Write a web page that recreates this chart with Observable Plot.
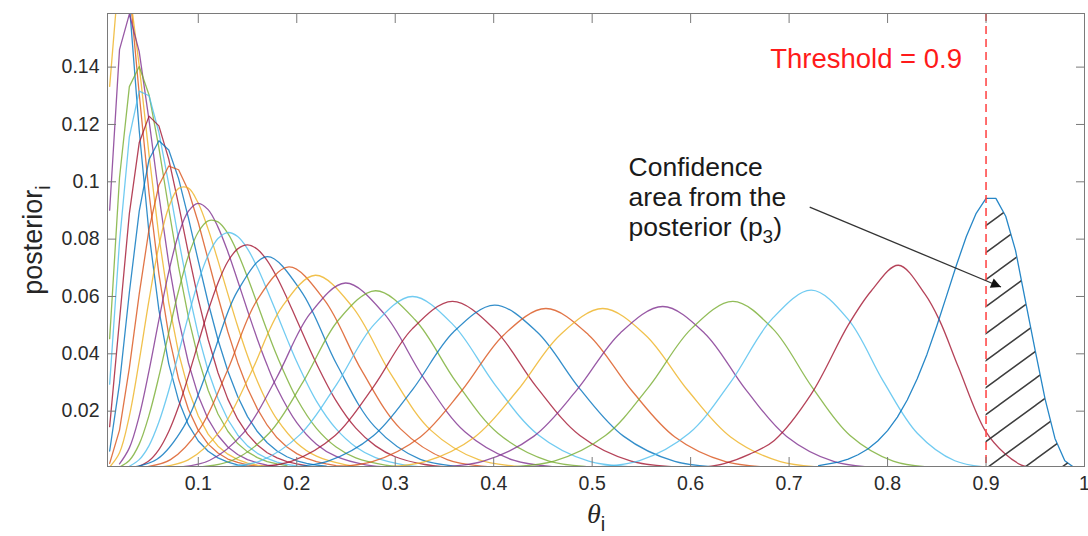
<!DOCTYPE html>
<html>
<head>
<meta charset="utf-8">
<script src="https://cdn.jsdelivr.net/npm/d3@7"></script>
<script src="https://cdn.jsdelivr.net/npm/@observablehq/plot@0.6"></script>
<style>
  html, body { margin: 0; padding: 0; background: #ffffff; }
  #chart svg { display: block; }
  #chart g[aria-label$="axis tick"] { stroke: #7a7a7a; }
</style>
</head>
<body>
<div id="chart"></div>
<script>
// ---------- palette (MATLAB default line colour order) ----------
const matlabColors = ["#0072BD", "#D95319", "#EDB120", "#7E2F8E", "#77AC30", "#4DBEEE", "#A2142F"];

// ---------- axes ----------
const xTicks = [0.1, 0.2, 0.3, 0.4, 0.5, 0.6, 0.7, 0.8, 0.9, 1];
const xTickLabels = ["0.1", "0.2", "0.3", "0.4", "0.5", "0.6", "0.7", "0.8", "0.9", "1"];
const yTicks = [0.02, 0.04, 0.06, 0.08, 0.1, 0.12, 0.14];
const yTickLabels = ["0.02", "0.04", "0.06", "0.08", "0.1", "0.12", "0.14"];
const xLabel = "θ_{i}";
const yLabel = "posterior_{i}";

// ---------- annotations ----------
const threshold = 0.9;
const thresholdLabel = "Threshold = 0.9";
const noteLines = ["Confidence", "area from the", "posterior (p_{3})"];
const noteAnchor = [0.537, 0.1092];   // [theta, posterior] of the note's top-left
const arrowFrom = [0.7209, 0.0912];   // [theta, posterior]
const arrowTo = [0.9152, 0.0633];     // [theta, posterior]

// ---------- posterior curves, [theta, posterior] ----------
const post01 = [[0.01,0.220],[0.02,0.206],[0.03,0.162],[0.04,0.118],[0.05,0.0819],[0.06,0.0553],[0.07,0.0365],[0.08,0.0237],[0.09,0.0152],[0.10,0.0096],[0.11,0.0060],[0.12,0.0037],[0.13,0.0022],[0.14,0.0013],[0.15,0.0008],[0.16,0.0005]];
const post02 = [[0.01,0.1766],[0.02,0.1945],[0.03,0.1678],[0.04,0.1307],[0.05,0.0960],[0.06,0.0678],[0.07,0.0465],[0.08,0.0312],[0.09,0.0206],[0.10,0.0133],[0.11,0.0085],[0.12,0.0054],[0.13,0.0033],[0.14,0.0021],[0.15,0.0013],[0.16,0.0008]];
const post03 = [[0.01,0.1333],[0.02,0.1750],[0.03,0.1675],[0.04,0.1405],[0.05,0.1094],[0.06,0.0810],[0.07,0.0579],[0.08,0.0403],[0.09,0.0274],[0.10,0.0183],[0.11,0.0120],[0.12,0.0078],[0.13,0.0050],[0.14,0.0031],[0.15,0.0019],[0.16,0.0012],[0.17,0.0007]];
const post04 = [[0.01,0.0901],[0.02,0.1461],[0.03,0.1585],[0.04,0.1454],[0.05,0.1214],[0.06,0.0953],[0.07,0.0716],[0.08,0.0520],[0.09,0.0368],[0.10,0.0254],[0.11,0.0172],[0.12,0.0115],[0.13,0.0075],[0.14,0.0049],[0.15,0.0031],[0.16,0.0020],[0.17,0.0012],[0.18,0.0008]];
const post05 = [[0.01,0.0453],[0.02,0.1014],[0.03,0.1332],[0.04,0.1402],[0.05,0.1303],[0.06,0.1118],[0.07,0.0906],[0.08,0.0703],[0.09,0.0527],[0.10,0.0384],[0.11,0.0273],[0.12,0.0190],[0.13,0.0130],[0.14,0.0087],[0.15,0.0058],[0.16,0.0038],[0.17,0.0024],[0.18,0.0016],[0.19,0.0010]];
const post06 = [[0.01,0.0294],[0.02,0.0791],[0.03,0.1157],[0.04,0.1316],[0.05,0.1300],[0.06,0.1172],[0.07,0.0992],[0.08,0.0799],[0.09,0.0620],[0.10,0.0466],[0.11,0.0341],[0.12,0.0244],[0.13,0.0171],[0.14,0.0117],[0.15,0.0079],[0.16,0.0053],[0.17,0.0035],[0.18,0.0022],[0.19,0.0014],[0.20,0.0009]];
const post07 = [[0.01,0.0146],[0.02,0.0517],[0.03,0.0889],[0.04,0.1136],[0.05,0.1229],[0.06,0.1195],[0.07,0.1079],[0.08,0.0920],[0.09,0.0750],[0.10,0.0590],[0.11,0.0450],[0.12,0.0334],[0.13,0.0242],[0.14,0.0172],[0.15,0.0120],[0.16,0.0082],[0.17,0.0055],[0.18,0.0037],[0.19,0.0024],[0.20,0.0016],[0.21,0.0010]];
const post08 = [[0.01,0.0061],[0.02,0.0296],[0.03,0.0614],[0.04,0.0897],[0.05,0.1078],[0.06,0.1143],[0.07,0.1111],[0.08,0.1011],[0.09,0.0873],[0.10,0.0724],[0.11,0.0579],[0.12,0.0449],[0.13,0.0340],[0.14,0.0251],[0.15,0.0181],[0.16,0.0129],[0.17,0.0090],[0.18,0.0061],[0.19,0.0041],[0.20,0.0027],[0.21,0.0018],[0.22,0.0012],[0.23,0.0008]];
const post09 = [[0.01,0.0018],[0.02,0.0134],[0.03,0.0351],[0.04,0.0608],[0.05,0.0835],[0.06,0.0988],[0.07,0.1055],[0.08,0.1042],[0.09,0.0969],[0.10,0.0858],[0.11,0.0729],[0.12,0.0599],[0.13,0.0477],[0.14,0.0370],[0.15,0.0280],[0.16,0.0208],[0.17,0.0151],[0.18,0.0107],[0.19,0.0075],[0.20,0.0052],[0.21,0.0035],[0.22,0.0024],[0.23,0.0016],[0.24,0.0010],[0.25,0.0007]];
const post10 = [[0.01,0.0005],[0.02,0.0055],[0.03,0.0183],[0.04,0.0375],[0.05,0.0588],[0.06,0.0777],[0.07,0.0911],[0.08,0.0977],[0.09,0.0978],[0.10,0.0925],[0.11,0.0835],[0.12,0.0725],[0.13,0.0609],[0.14,0.0496],[0.15,0.0393],[0.16,0.0304],[0.17,0.0230],[0.18,0.0171],[0.20,0.0089],[0.22,0.0043],[0.25,0.0013],[0.28,0.0003]];
const post11 = [[0.02,0.0016],[0.03,0.0072],[0.04,0.0183],[0.05,0.0341],[0.06,0.0518],[0.07,0.0686],[0.08,0.0817],[0.09,0.0898],[0.10,0.0925],[0.11,0.0903],[0.12,0.0842],[0.13,0.0756],[0.14,0.0655],[0.15,0.0551],[0.16,0.0451],[0.17,0.0360],[0.18,0.0280],[0.20,0.0160],[0.22,0.0085],[0.24,0.0042],[0.27,0.0013],[0.30,0.0004]];
const post12 = [[0.02,0.0005],[0.03,0.0028],[0.04,0.0085],[0.05,0.0186],[0.06,0.0321],[0.07,0.0473],[0.08,0.0620],[0.09,0.0742],[0.10,0.0825],[0.11,0.0864],[0.12,0.0860],[0.13,0.0820],[0.14,0.0752],[0.15,0.0667],[0.16,0.0574],[0.17,0.0480],[0.18,0.0392],[0.20,0.0244],[0.22,0.0140],[0.24,0.0075],[0.26,0.0037],[0.29,0.0012],[0.32,0.0003]];
const post13 = [[0.03,0.0008],[0.04,0.0031],[0.05,0.0080],[0.06,0.0162],[0.07,0.0272],[0.08,0.0402],[0.09,0.0533],[0.10,0.0652],[0.11,0.0744],[0.12,0.0802],[0.13,0.0823],[0.14,0.0809],[0.15,0.0766],[0.16,0.0701],[0.17,0.0622],[0.18,0.0538],[0.19,0.0453],[0.20,0.0372],[0.22,0.0235],[0.24,0.0138],[0.26,0.0075],[0.28,0.0038],[0.31,0.0012],[0.34,0.0003]];
const post14 = [[0.04,0.0008],[0.05,0.0027],[0.06,0.0066],[0.07,0.0129],[0.08,0.0216],[0.09,0.0323],[0.10,0.0438],[0.11,0.0550],[0.12,0.0647],[0.13,0.0722],[0.14,0.0766],[0.15,0.0780],[0.16,0.0765],[0.17,0.0725],[0.18,0.0666],[0.19,0.0595],[0.20,0.0518],[0.22,0.0366],[0.24,0.0236],[0.26,0.0141],[0.28,0.0079],[0.30,0.0041],[0.33,0.0014],[0.36,0.0004]];
const post15 = [[0.0306,0.0003],[0.058,0.0032],[0.0853,0.0146],[0.1112,0.0360],[0.1395,0.0617],[0.170,0.0739],[0.2047,0.0617],[0.2411,0.0360],[0.2791,0.0146],[0.3255,0.0032],[0.3814,0.0003]];
const post16 = [[0.0412,0.0003],[0.0718,0.0031],[0.1017,0.0139],[0.1296,0.0342],[0.1597,0.0587],[0.192,0.0703],[0.2282,0.0587],[0.2659,0.0342],[0.3051,0.0139],[0.3528,0.0031],[0.4099,0.0003]];
const post17 = [[0.0556,0.0003],[0.0898,0.0030],[0.1225,0.0133],[0.1527,0.0328],[0.1849,0.0563],[0.219,0.0674],[0.2567,0.0563],[0.2958,0.0328],[0.3363,0.0133],[0.3853,0.0030],[0.4437,0.0003]];
const post18 = [[0.0733,0.0003],[0.1112,0.0028],[0.1468,0.0128],[0.1793,0.0315],[0.2135,0.0540],[0.2495,0.0647],[0.2887,0.0540],[0.329,0.0315],[0.3707,0.0128],[0.4209,0.0028],[0.4803,0.0003]];
const post19 = [[0.0924,0.0003],[0.1336,0.0027],[0.1719,0.0123],[0.2064,0.0302],[0.2424,0.0518],[0.280,0.0620],[0.3204,0.0518],[0.3618,0.0302],[0.4043,0.0123],[0.4554,0.0027],[0.5155,0.0003]];
const post20 = [[0.1176,0.0003],[0.1624,0.0026],[0.2036,0.0119],[0.2402,0.0292],[0.2782,0.0501],[0.3174,0.0600],[0.3589,0.0501],[0.4014,0.0292],[0.4447,0.0119],[0.4965,0.0026],[0.5572,0.0003]];
const post21 = [[0.1466,0.0003],[0.1951,0.0026],[0.239,0.0115],[0.2777,0.0284],[0.3173,0.0487],[0.358,0.0583],[0.4005,0.0487],[0.4436,0.0284],[0.4875,0.0115],[0.5396,0.0026],[0.6004,0.0003]];
const post22 = [[0.1794,0.0002],[0.2312,0.0025],[0.2775,0.0113],[0.318,0.0277],[0.3592,0.0476],[0.401,0.0570],[0.4441,0.0476],[0.4877,0.0277],[0.5318,0.0113],[0.5839,0.0025],[0.6442,0.0002]];
const post23 = [[0.2215,0.0002],[0.2767,0.0024],[0.3255,0.0110],[0.3677,0.0272],[0.4102,0.0466],[0.453,0.0558],[0.4964,0.0466],[0.5401,0.0272],[0.584,0.0110],[0.6355,0.0024],[0.6948,0.0002]];
const post24 = [[0.2726,0.0002],[0.3303,0.0024],[0.3808,0.0110],[0.4241,0.0272],[0.4674,0.0466],[0.5107,0.0558],[0.554,0.0466],[0.5973,0.0272],[0.6406,0.0110],[0.6911,0.0024],[0.7488,0.0002]];
const post25 = [[0.329,0.0002],[0.3888,0.0025],[0.4406,0.0112],[0.4847,0.0275],[0.5284,0.0472],[0.5717,0.0565],[0.6141,0.0472],[0.656,0.0275],[0.6975,0.0112],[0.7452,0.0025],[0.7988,0.0002]];
const post26 = [[0.4007,0.0003],[0.4614,0.0026],[0.5135,0.0115],[0.5574,0.0284],[0.6006,0.0487],[0.643,0.0583],[0.6836,0.0487],[0.7233,0.0284],[0.7619,0.0115],[0.8057,0.0026],[0.8541,0.0003]];
const post27 = [[0.4874,0.0003],[0.5475,0.0027],[0.5985,0.0123],[0.641,0.0303],[0.6823,0.0520],[0.7226,0.0622],[0.76,0.0520],[0.7959,0.0303],[0.8302,0.0123],[0.8683,0.0027],[0.9092,0.0003]];
const post28 = [[0.61,0.0003],[0.634,0.0017],[0.66,0.0050],[0.685,0.0098],[0.7226,0.0260],[0.76,0.0500],[0.7836,0.0620],[0.811,0.0709],[0.838,0.0608],[0.853,0.0515],[0.872,0.0353],[0.899,0.0133],[0.919,0.0052],[0.936,0.0012],[0.95,0.0002]];
const post29 = [[0.73,0.0010],[0.75,0.0022],[0.76,0.0033],[0.77,0.0048],[0.78,0.0068],[0.79,0.0096],[0.80,0.0132],[0.81,0.0179],[0.82,0.0239],[0.83,0.0312],[0.84,0.0398],[0.85,0.0497],[0.86,0.0603],[0.87,0.0710],[0.88,0.0809],[0.89,0.0890],[0.90,0.0942],[0.91,0.0942],[0.92,0.0880],[0.93,0.0760],[0.94,0.0585],[0.95,0.0410],[0.96,0.0242],[0.97,0.0105],[0.98,0.0027],[0.99,0.0002]];

const posteriors = [post01, post02, post03, post04, post05, post06, post07, post08, post09, post10,
  post11, post12, post13, post14, post15, post16, post17, post18, post19, post20,
  post21, post22, post23, post24, post25, post26, post27, post28, post29];
const sharpCurves = [0, 1, 2, 3, 4, 5, 6, 7, 8, 28]; // drawn as straight polylines (grid samples)

// ---------- build table ----------
const rows = [];
posteriors.forEach((pts, k) => {
  pts.forEach(([theta, p]) => rows.push({curve: k, theta, p, color: matlabColors[k % matlabColors.length]}));
});
const rowsSharp = rows.filter(d => sharpCurves.includes(d.curve));
const rowsSmooth = rows.filter(d => !sharpCurves.includes(d.curve));
const lastCurve = posteriors.length - 1;
const hatchRows = rows.filter(d => d.curve === lastCurve && d.theta >= threshold);

const sansFont = "'Liberation Sans', Arial, Helvetica, sans-serif";

const lineStyle = {x: "theta", y: "p", z: "curve", stroke: "color", strokeWidth: 1.3, strokeOpacity: 0.8, clip: true};

const chart = Plot.plot({
  width: 1088,
  height: 536,
  marginLeft: 107,
  marginRight: 4,
  marginTop: 13,
  marginBottom: 70,
  x: {domain: [0.0078, 1]},
  y: {domain: [0.0007, 0.1587]},
  color: {type: "identity"},
  style: {fontFamily: sansFont, color: "#2b2b2b", background: "#ffffff", overflow: "visible"},
  marks: [
    Plot.line(rowsSharp.filter(d => d.curve !== lastCurve), lineStyle),
    Plot.line(rowsSmooth, {...lineStyle, curve: "catmull-rom"}),
    Plot.line(rowsSharp.filter(d => d.curve === lastCurve), {...lineStyle, strokeOpacity: 0.85}),
    Plot.areaY(hatchRows, {x: "theta", y: "p", fill: "url(#hatch)", clip: true}),
    Plot.ruleX([threshold], {stroke: "#ff4a4a", strokeWidth: 1.6, strokeDasharray: "8,5"}),
    Plot.frame({stroke: "#7a7a7a", strokeWidth: 1}),
    Plot.axisX(xTicks, {anchor: "bottom", tickSize: -9, tickPadding: 18.5, fontSize: 19.5, label: null,
      tickFormat: d => xTickLabels[xTicks.indexOf(d)]}),
    Plot.axisX(xTicks, {anchor: "top", tickSize: -9, label: null, tickFormat: () => ""}),
    Plot.axisY(yTicks, {anchor: "left", tickSize: -9, tickPadding: 17, fontSize: 19.5, label: null,
      tickFormat: d => yTickLabels[yTicks.indexOf(d)]}),
    Plot.axisY(yTicks, {anchor: "right", tickSize: -9, label: null, tickFormat: () => ""}),
    Plot.text([thresholdLabel], {x: () => threshold, frameAnchor: "top", dy: 35, dx: -24, textAnchor: "end",
      fill: "#ff1a1a", fontSize: 27.5}),
    Plot.link([{from: arrowFrom, to: arrowTo}], {x1: d => d.from[0], y1: d => d.from[1], x2: d => d.to[0], y2: d => d.to[1],
      stroke: "#333333", strokeWidth: 1.3}),
    Plot.text([noteLines.join("\n")], {x: () => noteAnchor[0], y: () => noteAnchor[1], textAnchor: "start", lineAnchor: "top",
      lineHeight: 1.12, fontSize: 26.5, fill: "#1a1a1a"}),
    Plot.text([xLabel], {frameAnchor: "bottom", dy: 56, textAnchor: "middle", fontSize: 28, fill: "#262626",
      fontFamily: "'Liberation Serif', 'DejaVu Serif', serif", fontStyle: "italic"}),
    Plot.text([yLabel], {frameAnchor: "left", dx: -74, textAnchor: "middle", lineAnchor: "middle", rotate: -90,
      fontSize: 27, fill: "#262626"})
  ]
});

// ---------- defs: hatch pattern + filled arrow head ----------
const ns = "http://www.w3.org/2000/svg";
const defs = document.createElementNS(ns, "defs");
defs.innerHTML =
  '<pattern id="hatch" patternUnits="userSpaceOnUse" width="37" height="27">' +
  '<path d="M0,27L37,0M-3.7,2.7L3.7,-2.7M33.3,29.7L40.7,24.3" stroke="#3d3d3d" stroke-width="1.5" fill="none"/></pattern>' +
  '<marker id="arrowHead" viewBox="0 0 10 10" refX="10" refY="5" markerUnits="userSpaceOnUse" markerWidth="14" markerHeight="10" orient="auto">' +
  '<path d="M0,0L10,5L0,10z" fill="#111111"/></marker>';
chart.insertBefore(defs, chart.firstChild);
chart.querySelectorAll('g[aria-label="link"] path').forEach(p => p.setAttribute("marker-end", "url(#arrowHead)"));

// ---------- subscripts written as a_{b} ----------
chart.querySelectorAll("text, tspan").forEach(el => {
  if (el.children.length) return;
  const m = el.textContent.match(/^(.*)_\{(.+?)\}(.*)$/);
  if (!m) return;
  el.textContent = "";
  const t1 = document.createElementNS(ns, "tspan");
  t1.textContent = m[1];
  const t2 = document.createElementNS(ns, "tspan");
  t2.textContent = m[2];
  t2.setAttribute("font-size", "0.72em");
  t2.setAttribute("dy", "0.4em");
  t2.setAttribute("font-style", "normal");
  t2.setAttribute("font-family", sansFont);
  el.append(t1, t2);
  if (m[3]) {
    const t3 = document.createElementNS(ns, "tspan");
    t3.textContent = m[3];
    t3.setAttribute("dy", "-0.288em");
    el.append(t3);
  }
});

document.getElementById("chart").append(chart);
</script>
</body>
</html>
